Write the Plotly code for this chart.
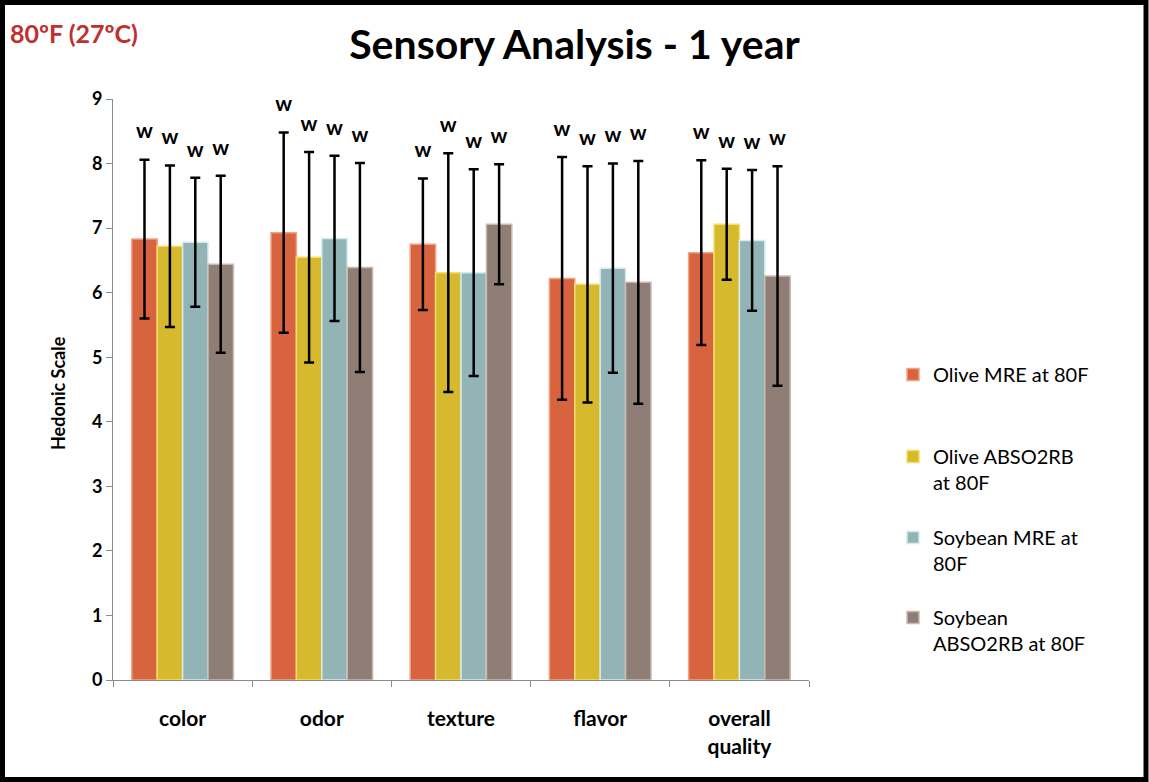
import plotly.graph_objects as go

categories = ["color", "odor", "texture", "flavor", "overall<br>quality"]
series_names = ["Olive MRE at 80F", "Olive ABSO2RB<br>at 80F", "Soybean MRE at<br>80F", "Soybean<br>ABSO2RB at 80F"]
olive_mre = [6.83, 6.93, 6.75, 6.22, 6.62]
olive_abso = [6.72, 6.55, 6.31, 6.13, 7.06]
soy_mre = [6.78, 6.84, 6.31, 6.38, 6.81]
soy_abso = [6.44, 6.39, 7.06, 6.16, 6.26]
olive_mre_err = [1.23, 1.55, 1.02, 1.88, 1.43]
olive_abso_err = [1.25, 1.63, 1.85, 1.83, 0.86]
soy_mre_err = [1.00, 1.28, 1.60, 1.62, 1.09]
soy_abso_err = [1.37, 1.62, 0.93, 1.88, 1.70]
sig_letters = [["w"] * 5, ["w"] * 5, ["w"] * 5, ["w"] * 5]

colors = ["#d8643f", "#d6b92c", "#92b4b7", "#8e7e76"]
edge = ["#f2a283", "#f3df6a", "#d4eced", "#c9bbb2"]
values = [olive_mre, olive_abso, soy_mre, soy_abso]
errors = [olive_mre_err, olive_abso_err, soy_mre_err, soy_abso_err]
legend_ids = ["legend", "legend2", "legend3", "legend4"]
legend_line_y = [370, 452, 533, 613]  # pixel centre of first legend line

FONT = "Lato"
L, R, T, B = 113, 340, 99, 102
W, H = 1149, 782
PW, PH = W - L - R, H - T - B


def px_x(x):
    return (x - L) / PW


def px_y(y):
    return (H - B - y) / PH


fig = go.Figure()
for i in range(4):
    fig.add_trace(go.Bar(
        x=categories, y=values[i], name=series_names[i],
        offsetgroup=str(i), legend=legend_ids[i],
        marker=dict(color=colors[i], line=dict(color=edge[i], width=1.5)),
        error_y=dict(type="data", array=errors[i], color="black", thickness=2.5, width=5),
    ))
for i in range(4):
    tops = [v + e + 0.16 for v, e in zip(values[i], errors[i])]
    fig.add_trace(go.Bar(
        x=categories, y=[0.6] * 5, base=tops, offsetgroup=str(i),
        marker=dict(color="rgba(0,0,0,0)", line=dict(width=0)), text=sig_letters[i],
        textposition="inside", insidetextanchor="middle",
        textfont=dict(family=FONT, size=21, color="black", weight="bold"),
        constraintext="none", showlegend=False, hoverinfo="skip",
    ))

legend_cfg = {}
for i, lid in enumerate(legend_ids):
    legend_cfg[lid] = dict(x=px_x(893), y=px_y(legend_line_y[i] - 15), xanchor="left", yanchor="top",
                           valign="top", font=dict(size=20, family=FONT), itemwidth=30,
                           bgcolor="rgba(0,0,0,0)")

fig.update_layout(
    width=W, height=H,
    margin=dict(l=L, r=R, t=T, b=B),
    paper_bgcolor="white", plot_bgcolor="white",
    barmode="group", bargap=0.27, bargroupgap=0,
    font=dict(family=FONT, color="black"),
    title=dict(text="<b>Sensory Analysis - 1 year</b>", x=0.5, xref="container",
               y=1 - 45 / H, yanchor="middle", font=dict(size=41, family=FONT)),
    showlegend=True,
    **legend_cfg,
)
fig.update_yaxes(range=[0, 9], dtick=1, showgrid=False, zeroline=False,
                 showline=True, linecolor="#8a8a8a", linewidth=1,
                 ticks="outside", ticklen=6, tickcolor="#8a8a8a",
                 tickfont=dict(size=18, family=FONT, weight="bold"))
fig.update_xaxes(showgrid=False, showline=True, linecolor="#8a8a8a", linewidth=1,
                 ticks="outside", ticklen=6, tickcolor="#8a8a8a", tickson="boundaries",
                 tickfont=dict(size=21, family=FONT, weight="bold"), ticklabelstandoff=20)

fig.add_annotation(text="<b>Hedonic Scale</b>", xref="paper", yref="paper",
                   x=px_x(45), y=px_y(393), textangle=-90, showarrow=False,
                   font=dict(size=18, family=FONT))
fig.add_annotation(text="<b>80ºF (27ºC)</b>", xref="paper", yref="paper",
                   x=px_x(8), y=px_y(33), xanchor="left", yanchor="middle",
                   showarrow=False, font=dict(size=25, family=FONT, color="#c0302f"))
fig.add_shape(type="rect", xref="paper", yref="paper",
              x0=px_x(2.5), x1=px_x(1146),
              y0=px_y(779.5), y1=px_y(2.5),
              line=dict(color="black", width=5), fillcolor="rgba(0,0,0,0)")

fig.write_html("out.html", config={"displayModeBar": False},
               post_script="document.body.style.margin='0';document.body.style.overflow='hidden';")
